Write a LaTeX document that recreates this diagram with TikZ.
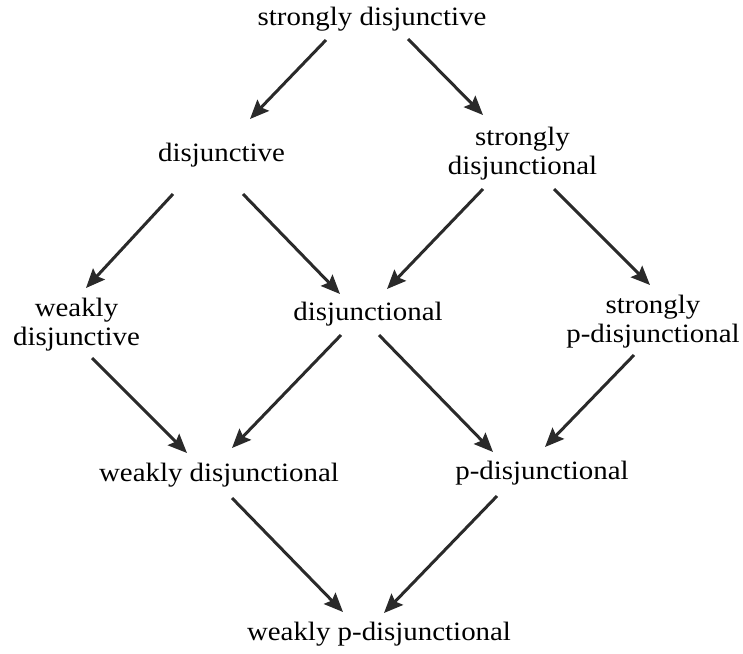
\documentclass[tikz,border=0pt]{standalone}
\usepackage{fontspec}
\setmainfont{Liberation Serif}[FakeStretch=1.09]
\usepackage{tikz}
\usetikzlibrary{positioning}
\usetikzlibrary{arrows.meta}
\definecolor{arrowgray}{HTML}{2A2A2A}

\begin{document}
\begin{tikzpicture}[x=1pt, y=-1pt,
	main node/.style={inner sep=0pt, align=center, font=\fontsize{26.5}{29}\selectfont},
	link/.style={draw=arrowgray, color=arrowgray, line width=3pt,
		-{Stealth[length=19pt, width=16pt, inset=3pt]}}]
	\useasboundingbox (0,0) rectangle (743,653);
	\node[main node] (1) at (372,19) {strongly disjunctive};
	\node[main node] (2) at (221.5,155) {disjunctive};
	\node[main node] (3) at (522.5,153.5) {strongly\\disjunctional};
	\node[main node] (4) at (76.5,325) {weakly\\disjunctive};
	\node[main node] (5) at (368,314) {disjunctional};
	\node[main node] (6) at (653,321.5) {strongly\\p-disjunctional};
	\node[main node] (7) at (219,475) {weakly disjunctional};
	\node[main node] (8) at (542,473) {p-disjunctional};
	\node[main node] (9) at (379,634) {weakly p-disjunctional};
	\path
	([shift={(-46,21)}]1.center) edge[link] ([shift={(28.5,-36)}]2.center)
	([shift={(36,20)}]1.center) edge[link] ([shift={(-39.5,-38.5)}]3.center)
	([shift={(-48.5,39)}]2.center) edge[link] ([shift={(9.5,-37)}]4.center)
	([shift={(21.5,39)}]2.center) edge[link] ([shift={(-28,-20)}]5.center)
	([shift={(-39.5,35.5)}]3.center) edge[link] ([shift={(19,-25)}]5.center)
	([shift={(31.5,35.5)}]3.center) edge[link] ([shift={(-3,-36.5)}]6.center)
	([shift={(15.5,33)}]4.center) edge[link] ([shift={(-32,-22)}]7.center)
	([shift={(-27,21)}]5.center) edge[link] ([shift={(13,-27)}]7.center)
	([shift={(11,21)}]5.center) edge[link] ([shift={(-49,-21)}]8.center)
	([shift={(-19,33.5)}]6.center) edge[link] ([shift={(3,-26)}]8.center)
	([shift={(13,23)}]7.center) edge[link] ([shift={(-36,-22)}]9.center)
	([shift={(-45,23)}]8.center) edge[link] ([shift={(5,-21)}]9.center);
\end{tikzpicture}
\end{document}
